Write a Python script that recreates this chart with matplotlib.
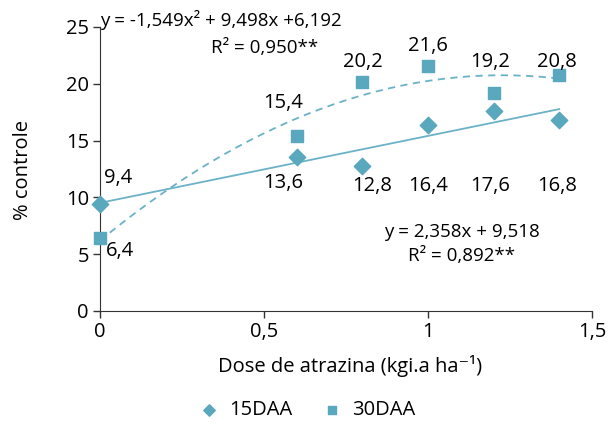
import matplotlib
matplotlib.use("Agg")
import matplotlib.pyplot as plt
import numpy as np

plt.rcParams['font.family'] = ['Open Sans', 'DejaVu Sans']

# data
dose = [0, 0.6, 0.8, 1.0, 1.2, 1.4]
daa15 = [9.4, 13.6, 12.8, 16.4, 17.6, 16.8]
daa30 = [6.4, 15.4, 20.2, 21.6, 19.2, 20.8]
lab15 = ['9,4', '13,6', '12,8', '16,4', '17,6', '16,8']
lab30 = ['6,4', '15,4', '20,2', '21,6', '19,2', '20,8']
lin_coef = [2.358, 9.518]            # 15DAA linear fit
quad_coef = [-1.549, 9.498, 6.192]   # 30DAA quadratic fit
prod_per_ai = 2.5   # fits were done on L/ha of product (400 g/L)

col = '#5aa8bd'
lcol = '#6bb2c7'
fs = 14.5

fig = plt.figure(figsize=(6.08, 4.23), dpi=100)
ax = fig.add_axes([100/608, 1-311/423, 492/608, 284/423])

xx = np.linspace(0, 1.4, 200)
ax.plot(xx, np.polyval(lin_coef, xx*prod_per_ai), color=lcol, lw=1.3, zorder=2)
ax.plot(xx, np.polyval(quad_coef, xx*prod_per_ai), color=lcol, lw=1.3, ls=(0, (4, 3)), zorder=2)
ax.scatter(dose, daa15, marker='D', s=70, color=col, label='15DAA', zorder=3, clip_on=False)
ax.scatter(dose, daa30, marker='s', s=80, color=col, label='30DAA', zorder=3, clip_on=False)

# label offsets (pixels)
off15 = [(18, 26), (-14, -26), (10, -20), (0, -61), (-3, -75), (-2, -66)]
off30 = [(20, -13), (-14, 33), (0, 20), (0, 20), (-3, 31), (-2, 13)]
for x, y, t, o in zip(dose, daa15, lab15, off15):
    ax.annotate(t, (x, y), xytext=o, textcoords='offset pixels', ha='center', va='center', fontsize=fs)
for x, y, t, o in zip(dose, daa30, lab30, off30):
    ax.annotate(t, (x, y), xytext=o, textcoords='offset pixels', ha='center', va='center', fontsize=fs)

ax.set_xlim(0, 1.5)
ax.set_ylim(0, 25)
ax.set_xticks([0, 0.5, 1, 1.5])
ax.set_xticklabels(['0', '0,5', '1', '1,5'])
ax.set_yticks([0, 5, 10, 15, 20, 25])
ax.tick_params(labelsize=fs, direction='out', length=5, width=1, color='#333333', pad=3)
for s in ['top', 'right']:
    ax.spines[s].set_visible(False)
for s in ['left', 'bottom']:
    ax.spines[s].set_color('#333333')
ax.set_xlabel('Dose de atrazina (kgi.a ha⁻¹)', fontsize=fs)
ax.set_ylabel('% controle', fontsize=fs)
ax.xaxis.set_label_coords(0.508, -0.155)
ax.yaxis.set_label_coords(-0.136, 0.496)

fs_eq = 13.5
fig.text(221/608, 1-20/423, 'y = -1,549x² + 9,498x +6,192', ha='center', va='center', fontsize=fs_eq)
fig.text(265/608, 1-48/423, 'R² = 0,950**', ha='center', va='center', fontsize=fs_eq)
fig.text(462/608, 1-232/423, 'y = 2,358x + 9,518', ha='center', va='center', fontsize=fs_eq)
fig.text(462/608, 1-256/423, 'R² = 0,892**', ha='center', va='center', fontsize=fs_eq)

fig.legend(loc='center', bbox_to_anchor=(302/608, 1-410/423), ncol=2, frameon=False,
           fontsize=fs, handletextpad=0.0, columnspacing=1.0, markerscale=0.7)

fig.savefig('out.png', dpi=100)
